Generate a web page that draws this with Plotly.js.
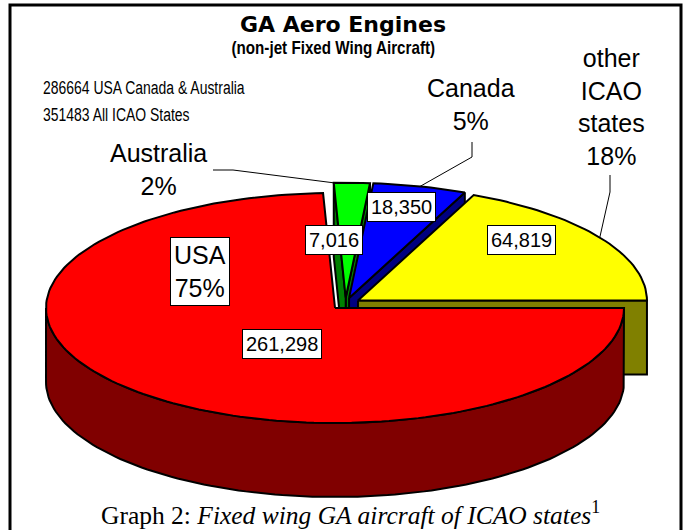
<!DOCTYPE html>
<html><head><meta charset="utf-8">
<script src="https://cdn.plot.ly/plotly-3.0.1.min.js"></script>
<style>html,body{margin:0;padding:0;background:#fff;}</style>
</head><body>
<div id="chart" style="width:688px;height:530px;"></div>
<script>
// ---- data ----
const categories = ["USA", "Australia", "Canada", "other ICAO states"];
const values = [261298, 7016, 18350, 64819];
const valueLabels = ["261,298", "7,016", "18,350", "64,819"];
const percentLabels = ["USA<br>75%", "Australia<br>2%", "Canada<br>5%", "other<br>ICAO<br>states<br>18%"];
const totalLines = ["286664 USA Canada & Australia", "351483 All ICAO States"];
const titleText = "GA Aero Engines";
const subtitleText = "(non-jet Fixed Wing Aircraft)";
const captionText = "Graph 2: <i>Fixed wing GA aircraft of ICAO states</i><sup>1</sup>";

// ---- style ----
const topColors = ["#FF0000", "#00FF00", "#0000FF", "#FFFF00"];
const sideColors = ["#800000", "#008000", "#000080", "#808000"];
const SANS = "Liberation Sans, Arial, sans-serif";
const CX = 345.4, CY = 303.7, RX = 289, RY = 115, DEPTH = 74, EXPLODE = 15;

// ---- geometry of the 3D exploded pie, from the values ----
const total = values.reduce((s, v) => s + v, 0);
const slices = [];
let acc = 0;
for (let i = values.length - 1; i >= 0; i--) {
  const span = values[i] / total * 360;
  const t1 = acc, t2 = acc + span;
  const mid = (t1 + t2) / 2 * Math.PI / 180;
  slices[i] = { t1, t2, ox: EXPLODE * Math.cos(mid), oy: -EXPLODE * (RY / RX) * Math.sin(mid) };
  acc += span;
}
function pt(s, deg, z) {
  const r = deg * Math.PI / 180;
  return [CX + s.ox + RX * Math.cos(r), CY + s.oy - RY * Math.sin(r) + z];
}
function apex(s, z) { return [CX + s.ox, CY + s.oy + z]; }
function arc(s, d1, d2, z) {
  const n = Math.max(2, Math.ceil(Math.abs(d2 - d1) / 1.5));
  const out = [];
  for (let k = 0; k <= n; k++) out.push(pt(s, d1 + (d2 - d1) * k / n, z));
  return out;
}
function poly(points, fill) {
  const xs = points.map(p => p[0]), ys = points.map(p => p[1]);
  xs.push(xs[0]); ys.push(ys[0]);
  return { type: "scatter", mode: "lines", x: xs, y: ys, fill: "toself", fillcolor: fill,
           line: { color: "#000", width: 2 }, hoverinfo: "skip", showlegend: false };
}

const traces = [];
const backToFront = [1, 2, 3, 0];
// radial cut faces
backToFront.forEach(i => {
  const s = slices[i];
  if (Math.cos(s.t1 * Math.PI / 180) > 0)
    traces.push(poly([apex(s, 0), pt(s, s.t1, 0), pt(s, s.t1, DEPTH), apex(s, DEPTH)], sideColors[i]));
  if (Math.cos(s.t2 * Math.PI / 180) < 0)
    traces.push(poly([apex(s, 0), pt(s, s.t2, 0), pt(s, s.t2, DEPTH), apex(s, DEPTH)], sideColors[i]));
});
// outer curved sides (front half)
backToFront.forEach(i => {
  const s = slices[i];
  const a1 = Math.max(s.t1, 180), a2 = Math.min(s.t2, 360);
  if (a2 > a1) {
    const topArc = arc(s, a1, a2, 0);
    const botArc = arc(s, a2, a1, DEPTH);
    traces.push(poly(topArc.concat(botArc), sideColors[i]));
  }
});
// top surfaces
backToFront.forEach(i => {
  const s = slices[i];
  traces.push(poly([apex(s, 0)].concat(arc(s, s.t1, s.t2, 0)), topColors[i]));
});

// ---- labels ----
const valuePos = [[282, 344], [334, 240], [401, 207], [521, 240]];
const percentPos = [[200, 271], [158, 169], [471, 104], [611, 107]];
const leaderStart = [null, [[213, 170], [233, 170]], [[472, 142], [472, 157]], [[610, 175], [610, 192]]];
const leaderFrac = [0.5, 1.0, 0.5, 0.5];

const annotations = [];
const shapes = [];
values.forEach((v, i) => {
  annotations.push({ x: valuePos[i][0], y: valuePos[i][1], xref: "x", yref: "y", text: valueLabels[i],
    showarrow: false, font: { family: SANS, size: 20, color: "#000" },
    bgcolor: "#fff", bordercolor: "#000", borderwidth: 1, borderpad: 3 });
  const boxed = i === 0;
  annotations.push({ x: percentPos[i][0], y: percentPos[i][1], xref: "x", yref: "y", text: percentLabels[i],
    showarrow: false, font: { family: SANS, size: 25, color: "#000" },
    bgcolor: boxed ? "#fff" : "rgba(0,0,0,0)", bordercolor: boxed ? "#000" : "rgba(0,0,0,0)",
    borderwidth: boxed ? 1 : 0, borderpad: boxed ? 3 : 0 });
  if (leaderStart[i]) {
    const s = slices[i];
    const end = pt(s, s.t1 + (s.t2 - s.t1) * leaderFrac[i], 0);
    const p = leaderStart[i];
    shapes.push({ type: "path", xref: "x", yref: "y",
      path: `M${p[0][0]},${p[0][1]} L${p[1][0]},${p[1][1]} L${end[0]},${end[1]}`,
      line: { color: "#000", width: 1 } });
  }
});

annotations.push({ x: 342.5, y: 24, xref: "x", yref: "y", text: "<b>" + titleText + "</b>", showarrow: false,
  font: { family: "DejaVu Sans, sans-serif", size: 22, color: "#000" } });
annotations.push({ x: 333.5, y: 47, xref: "x", yref: "y", text: "<b>" + subtitleText + "</b>", showarrow: false,
  font: { family: SANS, size: 19, color: "#000" } });
totalLines.forEach((t, k) => {
  annotations.push({ x: 41, y: 88 + k * 27, xref: "x", yref: "y", text: t, showarrow: false, xanchor: "left",
    font: { family: SANS, size: 18, color: "#000" } });
});
annotations.push({ x: 350, y: 513, xref: "x", yref: "y", text: captionText, showarrow: false,
  font: { family: "Liberation Serif, Times New Roman, serif", size: 25.5, color: "#000" } });

shapes.push({ type: "rect", xref: "x", yref: "y", x0: 10, y0: 5, x1: 681, y1: 560,
  line: { color: "#000", width: 3 }, fillcolor: "rgba(0,0,0,0)", layer: "below" });

const layout = {
  width: 688, height: 530,
  margin: { l: 0, r: 0, t: 0, b: 0 },
  paper_bgcolor: "#fff", plot_bgcolor: "#fff",
  xaxis: { range: [0, 688], visible: false, fixedrange: true },
  yaxis: { range: [530, 0], visible: false, fixedrange: true },
  showlegend: false,
  annotations, shapes
};

// narrow (condensed) look for the Arial-Narrow texts of the original
const condense = {};
condense[subtitleText] = { f: 0.8, left: false };
totalLines.forEach(t => { condense[t] = { f: 0.775, left: true }; });

Plotly.newPlot("chart", traces, layout, { staticPlot: true, displayModeBar: false }).then(gd => {
  gd.querySelectorAll("text.annotation-text").forEach(t => {
    const c = condense[t.textContent];
    if (c) {
      const w = t.getComputedTextLength();
      t.setAttribute("textLength", (w * c.f).toFixed(1));
      t.setAttribute("lengthAdjust", "spacingAndGlyphs");
      if (c.left) {
        const x0 = parseFloat(t.getAttribute("x") || "0");
        t.setAttribute("x", (x0 - w * (1 - c.f) / 2).toFixed(1));
      }
    }
  });
});
</script>
</body></html>
